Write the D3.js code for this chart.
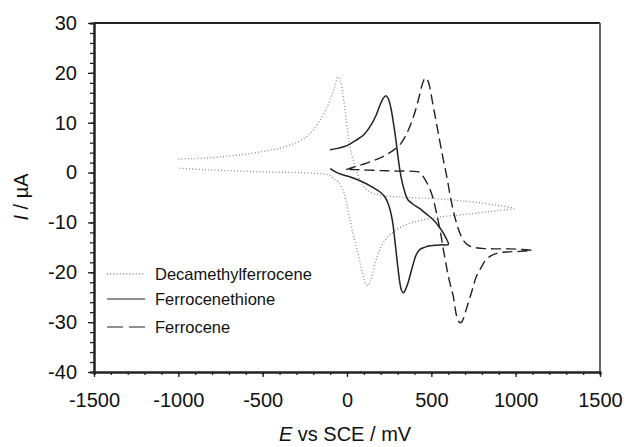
<!DOCTYPE html>
<html>
<head>
<meta charset="utf-8">
<script src="https://cdn.jsdelivr.net/npm/d3@7"></script>
<style>
  html, body { margin: 0; padding: 0; background: #fff; }
  svg { display: block; font-family: "Liberation Sans", Arial, sans-serif; }
</style>
</head>
<body>
<div id="chart"></div>
<script>
// Cyclic voltammograms. Each loop: forward scan then return.
const xTicks = [-1500, -1000, -500, 0, 500, 1000, 1500];
const yTicks = [-40, -30, -20, -10, 0, 10, 20, 30];
const legendLabels = ["Decamethylferrocene", "Ferrocenethione", "Ferrocene"];

// Decamethylferrocene (dotted)
const decaE = [-1000, -900, -800, -700, -600, -500, -400, -300, -240, -200, -160, -120, -90, -70, -55, -40, -25, -12, 5, 20, 47, 70, 90, 120, 160, 235, 350, 510, 650, 750, 880, 990,
  900, 800, 700, 550, 450, 370, 300, 260, 230, 200, 175, 150, 135, 125, 112, 100, 85, 70, 55, 38, 20, 0, -22, -50, -80, -100, -130, -165, -280, -460, -650, -850, -1000];
const decaI = [2.7, 2.8, 3.0, 3.3, 3.7, 4.2, 4.9, 6.0, 7.2, 8.5, 10.5, 13.0, 15.5, 17.5, 19.2, 18.5, 16.0, 12.6, 8.0, 4.8, 1.3, -1.0, -2.3, -3.5, -4.2, -4.7, -5.0, -5.2, -5.6, -5.9, -6.5, -7.2,
  -7.6, -8.0, -8.4, -8.9, -9.5, -10.2, -11.3, -12.3, -13.4, -15.0, -17.3, -20.4, -22.0, -22.7, -22.4, -21.2, -19.2, -17.0, -14.9, -12.6, -9.8, -6.6, -3.6, -2.0, -1.2, -0.6, -0.3, -0.2, 0.0, 0.1, 0.3, 0.6, 0.9];

// Ferrocenethione (solid)
const thioneE = [-100, -50, 0, 50, 100, 140, 170, 195, 215, 231, 245, 260, 275, 290, 305, 320, 340, 360, 390, 430, 470, 510, 540, 565, 585, 601,
  560, 520, 490, 460, 433, 410, 393, 375, 360, 345, 334, 322, 312, 300, 290, 280, 270, 255, 240, 225, 200, 170, 140, 100, 60, 20, -20, -60, -100];
const thioneI = [4.6, 4.9, 5.4, 6.4, 7.6, 9.4, 11.3, 13.5, 14.9, 15.4, 14.8, 13.0, 10.0, 6.5, 2.5, -0.8, -3.6, -5.4, -6.3, -7.2, -8.3, -9.4, -10.6, -11.8, -13.0, -14.4,
  -14.5, -14.6, -14.7, -15.0, -15.4, -16.5, -18.3, -20.5, -22.3, -23.6, -24.1, -23.5, -21.8, -18.5, -15.5, -12.5, -9.8, -7.4, -5.9, -4.9, -4.0, -3.3, -2.7, -2.0, -1.4, -0.9, -0.5, 0.0, 0.8];

// Ferrocene (dashed)
const fcE = [-5, 50, 117, 180, 235, 280, 314, 345, 373, 395, 413, 430, 443, 456, 468, 480, 492, 505, 520, 532, 550, 571, 591, 611, 630, 650, 670, 690, 720, 750, 800, 870, 960, 1030, 1095,
  1026, 960, 900, 848, 815, 788, 765, 749, 734, 719, 704, 690, 680, 670, 660, 650, 640, 630, 615, 601, 585, 571, 551, 530, 512, 495, 482, 465, 452, 433, 413, 350, 300, 250, 200, 117, 50, -5];
const fcI = [0.6, 1.2, 1.9, 2.7, 3.6, 4.6, 5.6, 7.2, 9.3, 11.3, 13.3, 15.5, 17.3, 18.6, 19.0, 18.4, 17.0, 14.5, 11.8, 9.6, 6.3, 2.6, -0.7, -4.5, -7.6, -10.2, -12.2, -13.6, -14.6, -15.0, -15.2, -15.3, -15.3, -15.4, -15.6,
  -15.8, -15.9, -16.1, -16.8, -17.9, -19.5, -21.0, -22.8, -24.5, -26.1, -27.8, -29.3, -30.0, -30.1, -29.8, -28.8, -27.0, -24.8, -22.8, -20.8, -18.0, -15.4, -11.4, -8.0, -5.4, -3.6, -2.6, -1.5, -0.8, 0.0, 0.2, 0.3, 0.3, 0.35, 0.4, 0.5, 0.6, 0.6];

const W = 626, H = 447;
const margin = { top: 23, right: 26, bottom: 75, left: 94 };

const svg = d3.select("#chart").append("svg").attr("width", W).attr("height", H);

const x = d3.scaleLinear().domain([-1500, 1500]).range([margin.left, W - margin.right]);
const y = d3.scaleLinear().domain([-40, 30]).range([H - margin.bottom, margin.top]);

const styleAxis = (s, size) => {
  s.select(".domain").attr("stroke", "#222").attr("stroke-width", 2);
  s.selectAll(".tick line").attr("stroke", "#222").attr("stroke-width", 1.3);
  s.selectAll("text").attr("fill", "#111").style("font-size", size + "px");
};

// frame: top black, right grey
svg.append("line").attr("x1", x(-1500)).attr("x2", x(1500)).attr("y1", y(30)).attr("y2", y(30))
  .attr("stroke", "#222").attr("stroke-width", 2);
svg.append("line").attr("x1", x(1500)).attr("x2", x(1500)).attr("y1", y(30)).attr("y2", y(-40))
  .attr("stroke", "#666").attr("stroke-width", 2);

// minor ticks
svg.append("g").attr("transform", `translate(0,${y(-40)})`)
  .call(d3.axisBottom(x).tickValues(d3.range(-1500, 1501, 100)).tickSize(3).tickFormat(""))
  .call((s) => styleAxis(s, 10));
svg.append("g").attr("transform", `translate(${x(-1500)},0)`)
  .call(d3.axisLeft(y).tickValues(d3.range(-40, 31, 2)).tickSize(4).tickFormat(""))
  .call((s) => styleAxis(s, 10));

// major ticks + labels
svg.append("g").attr("transform", `translate(0,${y(-40)})`)
  .call(d3.axisBottom(x).tickValues(xTicks).tickSizeInner(5).tickSizeOuter(0).tickPadding(16).tickFormat(d3.format("d")))
  .call((s) => styleAxis(s, 20));
svg.append("g").attr("transform", `translate(${x(-1500)},0)`)
  .call(d3.axisLeft(y).tickValues(yTicks).tickSizeInner(6).tickSizeOuter(0).tickPadding(11).tickFormat(d3.format("d")))
  .call((s) => styleAxis(s, 20));
svg.selectAll(".tick text").text(function () { return this.textContent.replace("−", "-"); });

// axis titles
const yt = svg.append("text").attr("transform", "translate(28,197) rotate(-90)")
  .attr("text-anchor", "middle").style("font-size", "20px").attr("fill", "#111");
yt.append("tspan").style("font-style", "italic").text("I");
yt.append("tspan").text(" / µA");
const xt = svg.append("text").attr("x", 345).attr("y", 441)
  .attr("text-anchor", "middle").style("font-size", "20px").attr("fill", "#111");
xt.append("tspan").style("font-style", "italic").text("E");
xt.append("tspan").text(" vs SCE / mV");

// curves
const line = d3.line().x((d) => x(d[0])).y((d) => y(d[1])).curve(d3.curveCatmullRom.alpha(0.5));
const series = [
  { E: decaE, I: decaI, stroke: "#8a8a8a", width: 1.3, dash: "1 2.2", legendDash: "1 2.2" },
  { E: thioneE, I: thioneI, stroke: "#222", width: 1.5, dash: null, legendDash: null },
  { E: fcE, I: fcI, stroke: "#222", width: 1.4, dash: "10 5", legendDash: "16 6" },
];
series.forEach((s) => {
  svg.append("path").datum(d3.zip(s.E, s.I))
    .attr("fill", "none").attr("stroke", s.stroke).attr("stroke-width", s.width)
    .attr("stroke-dasharray", s.dash).attr("stroke-linejoin", "round")
    .attr("d", line);
});

// legend
const legendLineY = [274, 299, 327];
legendLabels.forEach((lab, i) => {
  const s = series[i];
  svg.append("line").attr("x1", 107).attr("x2", 145).attr("y1", legendLineY[i]).attr("y2", legendLineY[i])
    .attr("stroke", s.stroke).attr("stroke-width", i === 0 ? 1.3 : 1.1).attr("stroke-dasharray", s.legendDash);
  svg.append("text").attr("x", 155).attr("y", legendLineY[i] + 6)
    .style("font-size", "16.5px").attr("fill", "#111").text(lab);
});
</script>
</body>
</html>
